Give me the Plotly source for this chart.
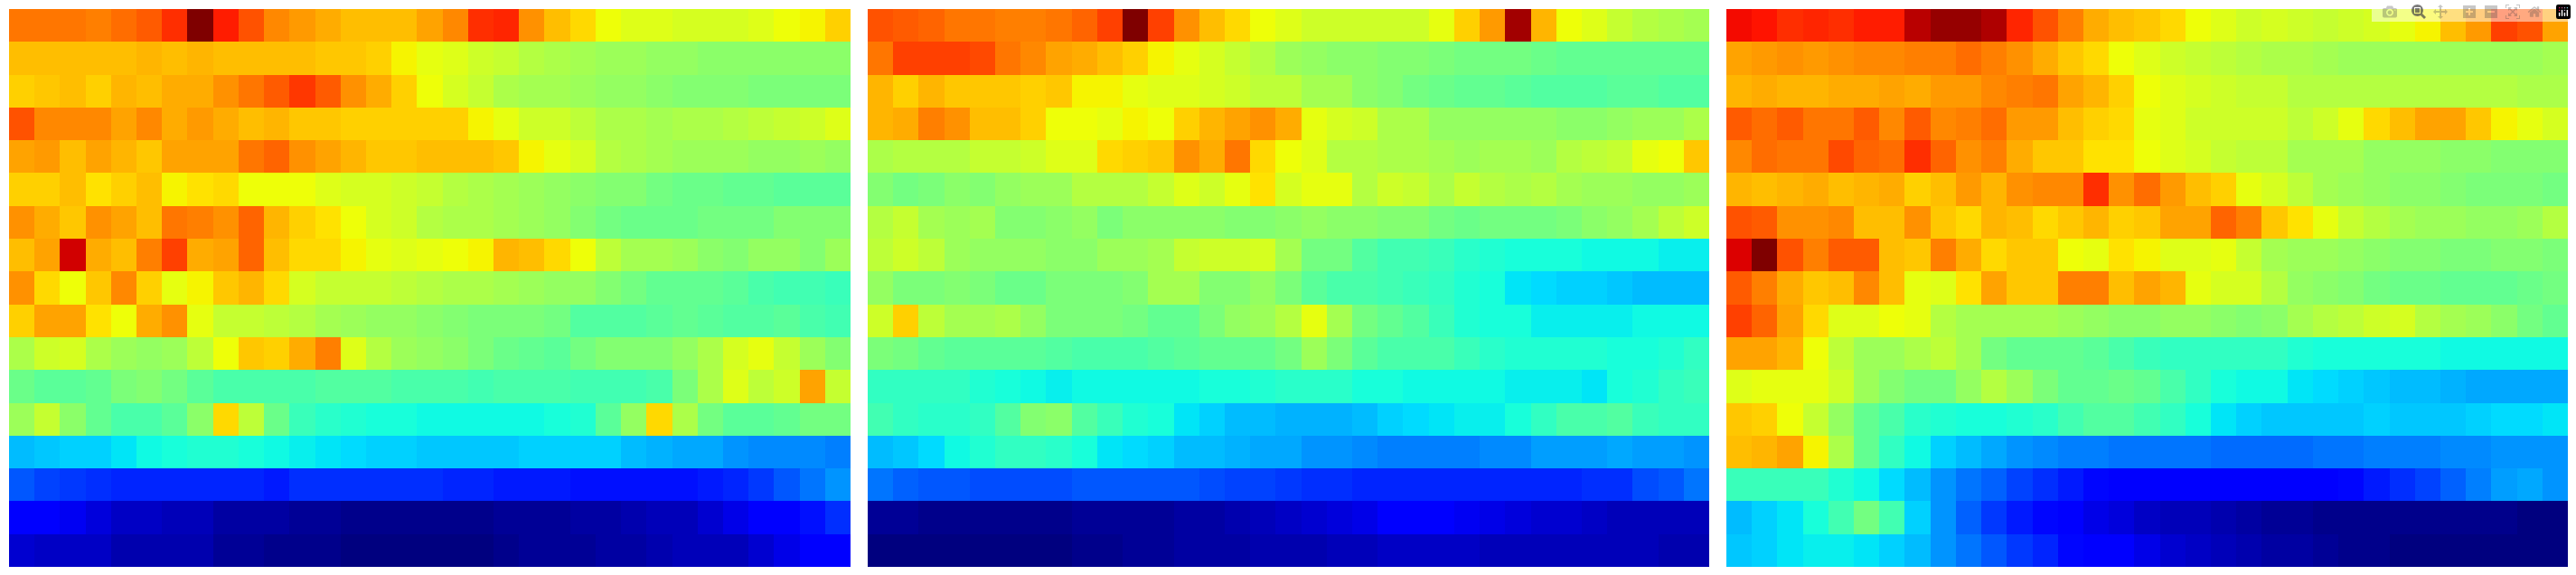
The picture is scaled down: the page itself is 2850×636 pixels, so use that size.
import plotly.graph_objects as go

panel_a = [
[78,78,78,77,79,81,86,100,88,82,76,74,72,70,70,70,73,76,86,87,75,70,67,64,62,62,61,61,61,62,64,65,68],
[70,70,70,70,70,71,70,71,70,70,70,70,69,69,68,65,63,62,60,59,57,56,55,54,54,53,53,52,52,52,52,52,52],
[68,69,70,68,71,70,72,72,75,78,81,85,81,75,72,68,64,61,59,56,55,55,54,53,53,52,51,51,51,50,50,50,50],
[82,76,76,76,73,76,72,74,72,70,71,69,69,68,68,68,68,68,65,63,60,60,58,56,56,55,56,56,57,58,59,60,62],
[73,74,70,73,71,69,73,73,73,78,80,75,73,71,69,69,70,70,70,69,65,63,61,57,56,55,54,54,54,53,53,54,53],
[68,68,70,66,68,70,65,66,67,64,64,64,62,61,61,60,59,57,56,55,54,53,52,51,51,49,48,48,47,47,46,46,46],
[75,72,69,75,73,70,78,77,75,80,71,68,66,64,61,60,57,56,56,55,54,53,51,49,48,48,48,49,49,49,51,51,51],
[70,73,93,72,70,77,84,72,73,80,70,67,67,65,63,62,63,64,65,71,70,67,64,58,55,55,54,52,51,53,53,51,54],
[75,67,64,69,76,68,63,65,69,71,67,61,59,59,59,58,57,56,56,55,54,53,53,51,49,47,47,47,46,44,43,43,42],
[68,73,73,66,64,72,75,63,59,59,58,57,55,54,53,53,52,51,50,50,50,49,45,45,45,46,47,46,45,45,46,44,43],
[56,60,61,56,54,53,54,58,64,69,68,72,77,62,57,54,53,52,50,48,47,46,49,51,51,51,53,56,61,63,59,54,51],
[48,46,46,47,50,51,49,46,44,44,44,44,45,45,45,44,44,44,43,44,44,44,43,43,43,44,50,56,62,58,60,73,59],
[54,59,52,47,44,44,46,52,67,58,48,42,40,39,38,38,37,37,37,37,37,38,39,46,53,67,56,49,46,46,47,49,49],
[31,32,33,33,35,37,38,39,39,38,37,36,35,34,33,33,32,32,32,32,33,33,33,33,31,30,29,29,27,26,26,26,25],
[21,19,18,17,16,16,16,16,16,16,15,17,17,17,17,17,17,16,16,15,15,15,14,14,14,14,14,15,16,18,21,24,27],
[11,11,10,8,6,6,5,5,3,3,3,2,2,1,1,1,1,1,1,2,2,2,3,3,4,5,5,7,9,11,12,14,17],
[7,6,6,6,4,4,4,4,2,2,1,1,1,0,0,0,0,0,0,1,2,2,2,3,3,4,5,5,5,7,9,11,12],
]

panel_b = [
[82,81,80,78,78,77,77,78,80,84,100,84,75,70,67,64,62,60,60,60,60,60,63,68,74,97,71,64,62,59,57,56,55],
[78,84,84,84,83,78,76,73,72,70,68,65,63,61,59,57,54,53,52,52,51,51,50,49,49,49,48,47,47,47,47,47,47],
[71,68,71,69,69,69,68,69,65,65,63,62,62,61,60,58,58,55,55,52,51,49,48,47,47,46,45,45,45,46,46,45,45],
[71,72,77,75,70,70,68,64,64,63,65,64,68,71,73,75,72,63,61,60,56,56,53,53,53,53,53,52,52,53,54,54,56],
[56,57,57,57,59,59,60,62,62,67,68,69,75,72,78,67,64,62,57,57,56,56,55,54,55,55,54,57,58,59,63,64,69],
[51,49,50,52,51,53,54,54,57,57,57,59,62,60,63,66,61,63,63,57,60,59,56,59,57,56,57,55,54,54,53,53,54],
[57,59,55,54,55,51,51,52,53,50,52,52,52,52,51,51,52,53,52,52,51,51,49,48,49,49,49,50,52,53,55,58,60],
[58,60,58,54,53,53,53,52,52,54,54,55,59,60,60,61,55,49,49,45,43,43,42,40,39,38,38,38,37,37,37,36,36],
[53,50,50,51,50,48,48,50,50,50,51,55,55,51,51,53,50,46,44,44,43,42,41,39,38,35,34,33,33,32,31,31,31],
[60,68,58,55,55,56,53,50,50,50,49,47,47,50,53,54,57,63,55,49,47,45,42,39,38,38,36,36,36,36,37,37,37],
[50,49,47,46,46,46,46,45,44,44,44,45,46,47,47,47,49,54,50,46,44,44,44,42,40,39,39,39,39,38,38,39,41],
[41,41,41,41,39,38,37,36,37,37,37,37,37,38,38,39,40,40,40,38,38,37,37,37,37,36,36,36,35,38,39,41,42],
[43,41,40,40,41,45,51,52,45,42,39,38,35,33,31,31,30,30,30,31,33,34,35,36,36,38,41,44,44,45,42,41,41],
[31,32,34,37,39,41,41,40,38,35,34,33,31,31,30,29,29,27,27,26,25,25,25,25,26,26,28,28,28,29,28,28,27],
[24,22,21,21,20,20,20,20,21,21,21,21,21,20,19,19,18,17,17,16,16,16,16,16,16,16,16,16,17,17,20,21,24],
[2,2,1,1,1,1,1,1,2,2,2,2,3,3,4,5,6,7,8,9,11,12,12,10,9,8,7,7,6,5,5,5,5],
[0,0,0,0,0,0,0,0,1,1,2,2,3,3,3,4,4,4,5,5,6,6,6,6,5,5,5,5,5,5,5,4,4],
]

panel_c = [
[90,89,86,87,86,88,88,95,98,98,96,87,82,77,72,70,69,67,64,62,60,61,60,59,60,61,63,65,70,74,84,82,73],
[73,74,75,74,75,76,76,77,77,79,77,75,72,69,67,64,62,60,59,58,57,56,56,55,54,54,54,54,54,54,54,54,55],
[71,72,71,71,72,72,73,72,74,74,76,77,78,73,71,68,64,62,61,60,59,59,57,57,57,57,57,57,57,57,57,56,56],
[81,79,81,78,78,81,76,81,76,77,79,74,74,70,68,67,63,62,60,60,60,60,58,60,63,67,70,73,73,69,65,63,61],
[76,79,78,78,83,80,79,86,80,75,77,72,69,69,66,66,64,62,61,59,58,58,55,55,55,53,53,53,52,52,51,51,51],
[71,70,71,72,70,71,72,68,70,74,71,75,76,76,86,75,79,74,70,68,63,61,58,55,54,53,52,52,51,50,50,50,49],
[82,81,75,75,76,70,70,75,69,67,71,70,67,69,71,68,69,73,73,80,77,69,66,63,59,57,55,54,54,53,53,54,57],
[92,100,82,77,81,81,70,69,77,72,67,69,69,64,63,66,65,62,62,63,59,55,54,54,53,52,51,51,50,50,51,51,50],
[81,77,72,69,70,76,70,63,62,66,73,69,69,77,77,70,73,71,63,61,61,57,53,52,51,49,48,48,47,47,47,48,49],
[84,80,73,67,62,62,64,63,57,55,55,55,55,54,53,52,52,53,53,52,51,52,55,57,58,60,61,57,55,54,52,49,47],
[73,73,71,64,58,54,54,56,58,55,49,47,47,47,46,44,42,41,41,41,41,41,39,38,38,38,38,38,37,37,37,37,37],
[62,63,63,63,60,54,51,49,49,53,57,54,50,47,47,48,47,44,41,38,37,37,35,34,33,32,31,31,30,29,29,29,29],
[69,68,64,59,53,47,44,40,39,38,38,39,40,43,45,45,43,41,38,35,33,32,32,32,32,33,32,32,32,33,34,34,35],
[70,71,73,65,56,47,41,37,33,31,29,27,26,25,25,24,24,24,24,23,23,23,23,24,24,25,25,25,26,26,27,27,27],
[42,42,42,42,39,37,34,31,27,24,22,19,17,15,13,12,11,11,11,11,11,11,11,12,13,15,17,19,22,25,28,29,27],
[31,33,35,38,43,49,43,33,27,22,18,15,13,11,9,8,6,5,5,4,3,2,2,1,1,1,1,1,1,1,1,0,0],
[32,33,35,36,36,35,33,31,27,24,21,18,16,13,11,11,9,7,6,5,4,3,3,2,1,1,0,0,0,0,0,0,0],
]

jet = [
    [0.0, "rgb(0,0,127)"], [0.11, "rgb(0,0,255)"], [0.125, "rgb(0,0,255)"],
    [0.34, "rgb(0,219,255)"], [0.35, "rgb(0,229,247)"], [0.375, "rgb(20,255,222)"],
    [0.64, "rgb(238,255,8)"], [0.65, "rgb(246,244,0)"], [0.66, "rgb(255,226,0)"],
    [0.89, "rgb(255,19,0)"], [0.91, "rgb(232,0,0)"], [1.0, "rgb(127,0,0)"],
]

W, H = 2850, 636
panels = [(panel_a, 10, 941), (panel_b, 960, 1891), (panel_c, 1910, 2841)]
TOP, BOTTOM = 10, 627

fig = go.Figure()
for i, (z, left, right) in enumerate(panels, start=1):
    suffix = "" if i == 1 else str(i)
    fig.add_trace(go.Heatmap(z=z, zmin=0, zmax=100, colorscale=jet, showscale=False,
                             hoverinfo="skip", xaxis="x" + suffix, yaxis="y" + suffix))
    fig.layout["xaxis" + suffix] = dict(domain=[left / W, right / W], visible=False)
    fig.layout["yaxis" + suffix] = dict(domain=[1 - BOTTOM / H, 1 - TOP / H], visible=False,
                                        autorange="reversed", anchor="x" + suffix)
    fig.layout["xaxis" + suffix].anchor = "y" + suffix

fig.update_layout(width=W, height=H, margin=dict(l=0, r=0, t=0, b=0),
                  paper_bgcolor="white", plot_bgcolor="white", showlegend=False)
fig.write_html("out.html", post_script="document.body.style.margin='0';")
